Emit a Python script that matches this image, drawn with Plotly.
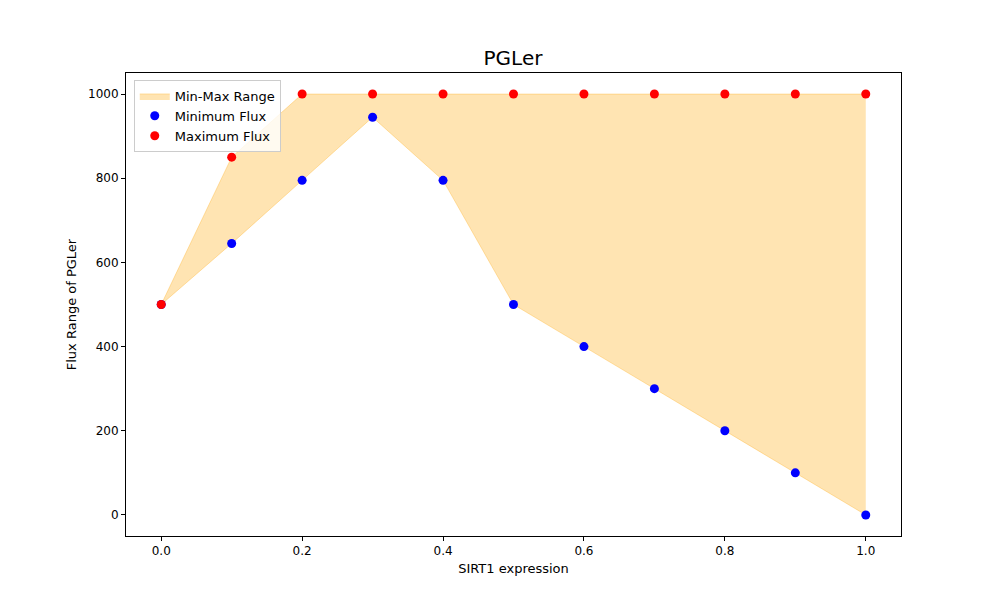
import plotly.graph_objects as go

sirt1 = [0.0, 0.1, 0.2, 0.3, 0.4, 0.5, 0.6, 0.7, 0.8, 0.9, 1.0]
min_flux = [500, 645, 795, 945, 795, 500, 400, 300, 200, 100, 0]
max_flux = [500, 850, 1000, 1000, 1000, 1000, 1000, 1000, 1000, 1000, 1000]

fig = go.Figure()
fig.add_trace(go.Scatter(x=sirt1, y=min_flux, mode="lines", line=dict(color="rgba(255,165,0,0.3)", width=1),
                         showlegend=False, hoverinfo="skip"))
fig.add_trace(go.Scatter(x=sirt1, y=max_flux, mode="lines", fill="tonexty", fillcolor="rgba(255,165,0,0.3)",
                         line=dict(color="rgba(255,165,0,0.3)", width=1), name="Min-Max Range"))
fig.add_trace(go.Scatter(x=sirt1, y=min_flux, mode="markers", marker=dict(color="blue", size=9),
                         name="Minimum Flux"))
fig.add_trace(go.Scatter(x=sirt1, y=max_flux, mode="markers", marker=dict(color="red", size=9),
                         name="Maximum Flux"))

axis = dict(showgrid=False, zeroline=False, showline=True, linecolor="black", mirror=True,
            ticks="outside", ticklen=4, tickcolor="black", tickfont=dict(size=12, color="black"))
fig.update_layout(
    width=1000, height=600, plot_bgcolor="white", paper_bgcolor="white",
    margin=dict(l=118, r=107, t=65, b=72),
    font=dict(family="DejaVu Sans", color="black"),
    title=dict(text="PGLer", x=0.505, xanchor="center", y=0.917, yanchor="middle", font=dict(size=20)),
    xaxis=dict(axis, range=[-0.05, 1.05], tickvals=[0, 0.2, 0.4, 0.6, 0.8, 1.0], tickformat=".1f",
               title=dict(text="SIRT1 expression", font=dict(size=13), standoff=6)),
    yaxis=dict(axis, range=[-50, 1050], tickvals=[0, 200, 400, 600, 800, 1000],
               title=dict(text="Flux Range of PGLer", font=dict(size=13), standoff=8)),
    legend=dict(x=0.01, y=0.985, xanchor="left", yanchor="top", bordercolor="#cccccc", borderwidth=1,
                bgcolor="rgba(255,255,255,0.8)", font=dict(size=13), tracegroupgap=0,
                traceorder="normal"),
)
fig.write_html("out.html")
